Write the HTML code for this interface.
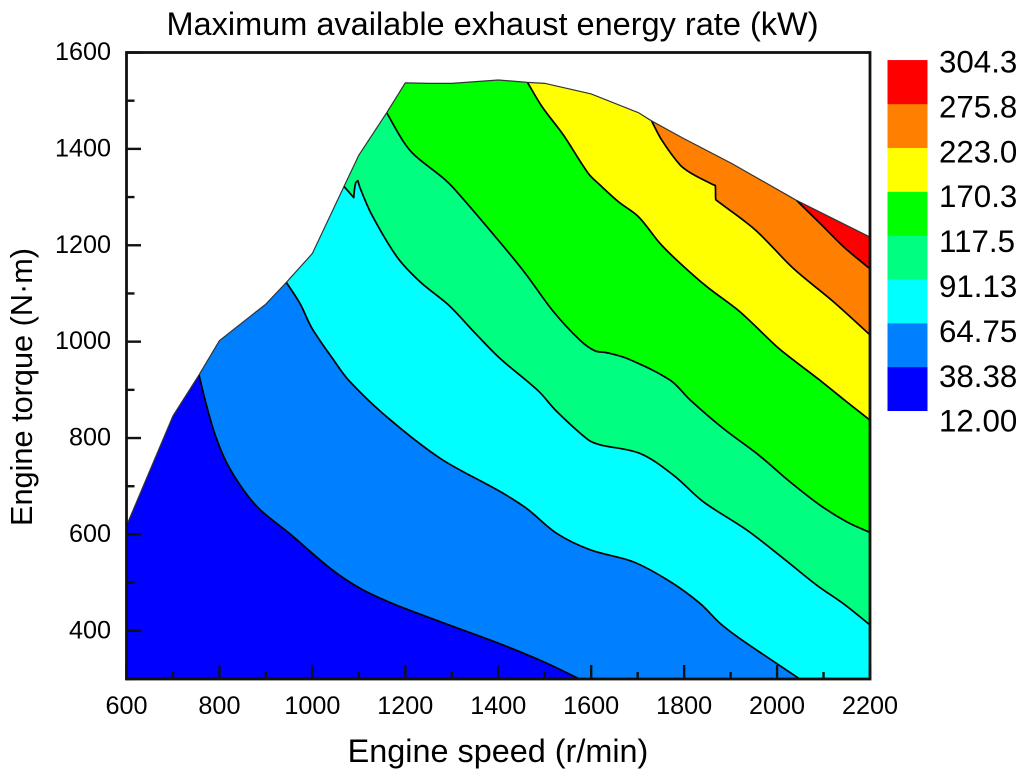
<!DOCTYPE html>
<html lang="en">
<head>
<meta charset="utf-8">
<title>Maximum available exhaust energy rate</title>
<style>
html,body{margin:0;padding:0;background:#fff;width:1024px;height:775px;overflow:hidden}
svg{display:block}
text{font-family:"Liberation Sans",Arial,sans-serif;fill:#000}
</style>
</head>
<body>
<svg id="chart" xmlns="http://www.w3.org/2000/svg" width="1024" height="775" viewBox="0 0 1024 775">
  <text x="492.5" y="35" text-anchor="middle" font-size="32.5">Maximum available exhaust energy rate (kW)</text>
  <text x="498" y="762" text-anchor="middle" font-size="32.4">Engine speed (r/min)</text>
  <text transform="translate(32 387) rotate(-90)" text-anchor="middle" font-size="30.7">Engine torque (N·m)</text>
  <defs>
    <clipPath id="envelope-clip"><path id="envelope-clip-path" d=""></path></clipPath>
  </defs>
  <g id="bands" clip-path="url(#envelope-clip)"></g>
  <g id="lines"></g>
  <g id="axes"></g>
  <g id="legend"></g>
</svg>
<script>
// Operating envelope (full-load curve)
const envelopeSpeed  = [600,700,756,800,900,944,1000,1068,1100,1160,1200,1253,1300,1400,1463,1500,1600,1702,1730,1798,1902,2042,2200];
const envelopeTorque = [618,846,931,1002,1078,1123,1183,1322,1387,1475,1537,1536,1536,1543,1538,1536,1514,1475,1458,1422,1370,1293,1217];

// Contour boundaries
const contour38Speed  = [756,771,791,816,852,888,952,1038,1103,1174,1289,1404,1497,1575];
const contour38Torque = [931,872,806,748,692,651,601,530,488,456,414,373,336,300];

const contour65Speed  = [944,974,999,1045,1078,1160,1275,1404,1461,1526,1598,1691,1770,1834,1877,1920,2049];
const contour65Torque = [1123,1078,1028,963,920,844,758,689,654,602,568,543,502,457,416,384,300];

const contour91Speed  = [1068,1089,1093,1098,1103,1128,1182,1232,1293,1347,1404,1486,1526,1594,1619,1705,1777,1841,1935,2014,2085,2146,2200];
const contour91Torque = [1322,1299,1329,1334,1318,1263,1176,1124,1076,1021,965,898,855,796,786,768,723,668,609,550,495,454,412];

const contour117Speed  = [1160,1196,1221,1282,1311,1404,1458,1519,1576,1608,1634,1680,1770,1813,1884,1960,2028,2092,2150,2200];
const contour117Torque = [1475,1415,1386,1339,1311,1206,1142,1062,1003,981,977,964,920,879,820,765,709,661,626,604];

const contour170Speed  = [1463,1494,1540,1594,1619,1659,1702,1748,1791,1849,1920,1999,2035,2092,2150,2200];
const contour170Torque = [1538,1488,1429,1349,1325,1290,1259,1204,1163,1114,1062,990,962,920,875,837];

const contour223Speed  = [1730,1752,1791,1816,1864,1867,1868,1870,1953,2035,2121,2200];
const contour223Torque = [1458,1418,1367,1349,1325,1324,1295,1293,1232,1152,1083,1014];

const contour276Speed  = [2042,2092,2143,2200];
const contour276Torque = [1293,1246,1197,1151];

// Legend, low to high
const legendLabels = ["12.00","38.38","64.75","91.13","117.5","170.3","223.0","275.8","304.3"];
const bandColors   = ["#0000ff","#0080ff","#00ffff","#00ff80","#00ff00","#ffff00","#ff8000","#ff0000"];

// Axis ticks
const xTicks = [600,800,1000,1200,1400,1600,1800,2000,2200];
const xMinorTicks = [700,900,1100,1300,1500,1700,1900,2100];
const yTicks = [400,600,800,1000,1200,1400,1600];
const yMinorTicks = [300,500,700,900,1100,1300,1500];

const xMin = 600, xMax = 2200, yMin = 300, yMax = 1600;
const plotLeft = 126.5, plotRight = 870, plotTop = 52.5, plotBottom = 679;
const NS = "http://www.w3.org/2000/svg";

function xScale(v){ return plotLeft + (v - xMin) * (plotRight - plotLeft) / (xMax - xMin); }
function yScale(v){ return plotBottom - (v - yMin) * (plotBottom - plotTop) / (yMax - yMin); }
function pathOf(sp, tq){
  return sp.map((s,i)=>(i?"L":"M")+xScale(s).toFixed(2)+" "+yScale(tq[i]).toFixed(2)).join(" ");
}
// Smooth curve through the contour points; sharp turns stay as corners
function smoothOf(sp, tq){
  const px = sp.map(xScale), py = tq.map(yScale);
  function isCorner(i){
    if (i <= 0 || i >= px.length-1) return false;
    const ax = px[i]-px[i-1], ay = py[i]-py[i-1], bx = px[i+1]-px[i], by = py[i+1]-py[i];
    const c = (ax*bx+ay*by) / ((Math.hypot(ax,ay)*Math.hypot(bx,by)) || 1);
    return c < 0.35;
  }
  function tangent(i){
    const a = Math.max(i-1,0), b = Math.min(i+1,px.length-1);
    const dx = px[b]-px[a], dy = py[b]-py[a], n = Math.hypot(dx,dy) || 1;
    return [dx/n, dy/n];
  }
  let d = "M"+px[0].toFixed(2)+" "+py[0].toFixed(2);
  for (let i=0;i<px.length-1;i++){
    const len = Math.hypot(px[i+1]-px[i], py[i+1]-py[i]) / 3;
    const t0 = tangent(i), t1 = tangent(i+1);
    const l0 = isCorner(i) ? 0 : len, l1 = isCorner(i+1) ? 0 : len;
    d += " C"+(px[i]+t0[0]*l0).toFixed(2)+" "+(py[i]+t0[1]*l0).toFixed(2)+
         " "+(px[i+1]-t1[0]*l1).toFixed(2)+" "+(py[i+1]-t1[1]*l1).toFixed(2)+
         " "+px[i+1].toFixed(2)+" "+py[i+1].toFixed(2);
  }
  return d;
}
function make(tag, parent, attrs){
  const el = document.createElementNS(NS, tag);
  for (const k in attrs) el.setAttribute(k, attrs[k]);
  parent.appendChild(el);
  return el;
}

const contours = [
  [contour38Speed, contour38Torque],
  [contour65Speed, contour65Torque],
  [contour91Speed, contour91Torque],
  [contour117Speed, contour117Torque],
  [contour170Speed, contour170Torque],
  [contour223Speed, contour223Torque],
  [contour276Speed, contour276Torque]
];

const bandsG = document.getElementById("bands");
const linesG = document.getElementById("lines");
const axesG = document.getElementById("axes");
const legendG = document.getElementById("legend");

// Envelope clip
const envelopeClosed = pathOf(
  envelopeSpeed.concat([xMax, xMin]),
  envelopeTorque.concat([yMin, yMin])
) + " Z";
document.getElementById("envelope-clip-path").setAttribute("d", envelopeClosed);

// Lowest band fills the entire envelope
const baseBand = make("path", bandsG, {d: envelopeClosed, fill: bandColors[0]});



// Each next band is everything above-right of its contour
contours.forEach(function(c, i){
  const sp = c[0], tq = c[1];
  const lastT = tq[tq.length-1];
  const closeS = lastT <= yMin ? [xMax, xMax, sp[0]] : [xMax, sp[0]];
  const closeT = lastT <= yMin ? [yMin, yMax, yMax] : [yMax, yMax];
  const closing = closeS.map((s,k)=>"L"+xScale(s).toFixed(2)+" "+yScale(closeT[k]).toFixed(2)).join(" ");
  const band = make("path", bandsG, {d: smoothOf(sp, tq) + " " + closing + " Z", fill: bandColors[i+1]});
  
  
});

// Contour lines
contours.forEach(function(c, i){
  const line = make("path", linesG, {d: smoothOf(c[0], c[1]), fill: "none", stroke: "#000", "stroke-width": 1.7, "stroke-linejoin": "round"});
  
  
});

// Envelope outline
const outline = make("path", linesG, {d: pathOf(envelopeSpeed, envelopeTorque), fill: "none", stroke: "#333", "stroke-width": 1.2});



// Axes frame
const frame = make("rect", axesG, {x: plotLeft, y: plotTop, width: plotRight - plotLeft, height: plotBottom - plotTop, fill: "none", stroke: "#111", "stroke-width": 2.8});



xTicks.forEach(function(v){
  const t = make("line", axesG, {x1: xScale(v), x2: xScale(v), y1: plotBottom, y2: plotBottom - 14, stroke: "#111", "stroke-width": 2.4});
  
  
  const l = make("text", axesG, {x: xScale(v), y: 714, "text-anchor": "middle", "font-size": 25.2});
  l.textContent = v;
  
  
});
xMinorTicks.forEach(function(v){
  const t = make("line", axesG, {x1: xScale(v), x2: xScale(v), y1: plotBottom, y2: plotBottom - 7, stroke: "#111", "stroke-width": 2.4});
  
  
});
yTicks.forEach(function(v){
  const t = make("line", axesG, {x1: plotLeft, x2: plotLeft + 14.5, y1: yScale(v), y2: yScale(v), stroke: "#111", "stroke-width": 2.4});
  
  
  const l = make("text", axesG, {x: 111, y: yScale(v) + 7.5, "text-anchor": "end", "font-size": 25.2});
  l.textContent = v;
  
  
});
yMinorTicks.forEach(function(v){
  const t = make("line", axesG, {x1: plotLeft, x2: plotLeft + 8, y1: yScale(v), y2: yScale(v), stroke: "#111", "stroke-width": 2.4});
  
  
});

// Legend
const swatchLeft = 887.5, swatchWidth = 40, swatchBottom = 410.7, swatchStep = 43.83;
bandColors.forEach(function(col, i){
  const r = make("rect", legendG, {x: swatchLeft, y: swatchBottom - (i+1)*swatchStep, width: swatchWidth, height: swatchStep + 0.3, fill: col});
  
  
});
const labelBottom = 431.7, labelStep = 44.9;
legendLabels.forEach(function(txt, i){
  const l = make("text", legendG, {x: 939, y: labelBottom - i*labelStep, "font-size": 31.3});
  l.textContent = txt;
  
  
});
</script>
</body>
</html>
